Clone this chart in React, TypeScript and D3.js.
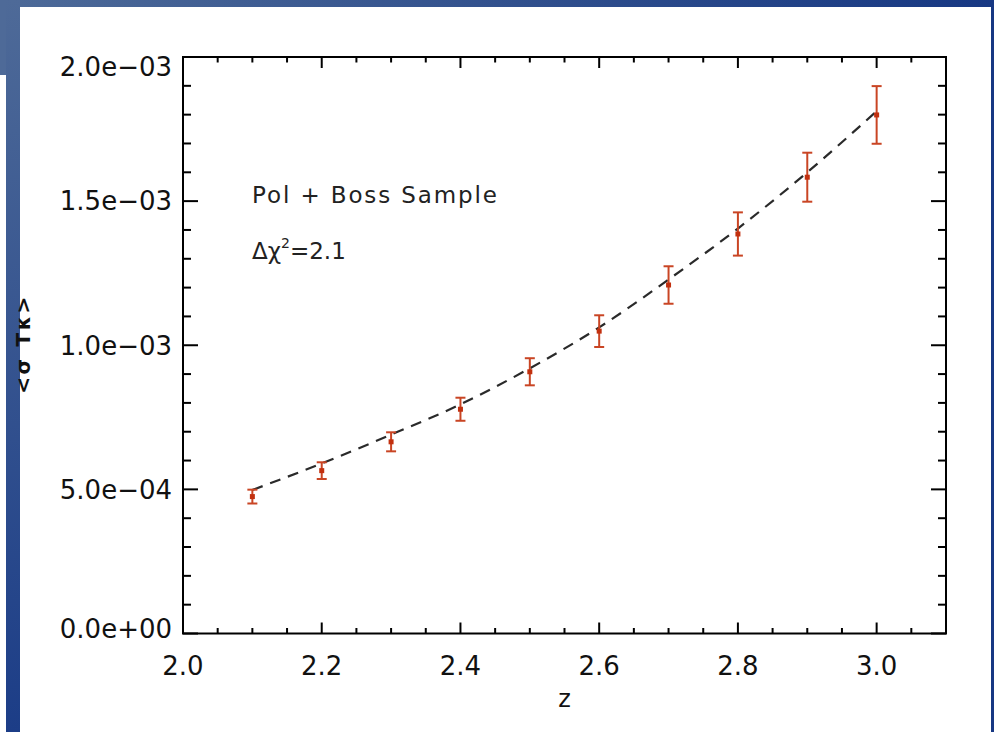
import React from "react";
import * as d3 from "d3";

const zVals = [2.1, 2.2, 2.3, 2.4, 2.5, 2.6, 2.7, 2.8, 2.9, 3.0];
const meanVals = [4.75e-4, 5.65e-4, 6.65e-4, 7.78e-4, 9.08e-4, 1.049e-3, 1.209e-3, 1.386e-3, 1.583e-3, 1.799e-3];
const errVals = [0.24e-4, 0.29e-4, 0.33e-4, 0.4e-4, 0.47e-4, 0.55e-4, 0.65e-4, 0.75e-4, 0.85e-4, 1.0e-4];
const modelVals = [4.98e-4, 5.9e-4, 6.9e-4, 7.95e-4, 9.2e-4, 1.062e-3, 1.228e-3, 1.405e-3, 1.6e-3, 1.812e-3];

const yTickVals = [0, 5e-4, 1e-3, 1.5e-3, 2e-3];
const yTickLabels = ["0.0e+00", "5.0e\u221204", "1.0e\u221203", "1.5e\u221203", "2.0e\u221203"];
const xTickVals = [2.0, 2.2, 2.4, 2.6, 2.8, 3.0];
const xTickLabels = ["2.0", "2.2", "2.4", "2.6", "2.8", "3.0"];

const annotation1 = "Pol + Boss Sample";
const xTitle = "z";

const FONT = "'DejaVu Sans', sans-serif";

export default function App() {
  const L = 183, R = 946, T = 57, B = 633.5;
  const x = d3.scaleLinear().domain([2.0, 3.1]).range([L, R]);
  const y = d3.scaleLinear().domain([0, 2e-3]).range([B, T]);

  const xMinor = d3.range(0, 23).map((i) => 2.0 + i * 0.05).filter((v) => v <= 3.1001);
  const yMinor = d3.range(0, 21).map((i) => i * 1e-4);

  const line = d3
    .line<number>()
    .x((_, i) => x(zVals[i]))
    .y((d) => y(d))
    .curve(d3.curveMonotoneX);

  const isMajorX = (v: number) => xTickVals.some((t) => Math.abs(t - v) < 1e-6);
  const isMajorY = (v: number) => yTickVals.some((t) => Math.abs(t - v) < 1e-9);

  const col = "#c94524";

  return (
    <svg
      width={994}
      height={732}
      style={{ position: "fixed", left: 0, top: 0, display: "block", background: "#fff" }}
    >
      <defs>
        <linearGradient id="topbar" x1="0" x2="1" y1="0" y2="0">
          <stop offset="0" stopColor="#4d6a98" />
          <stop offset="1" stopColor="#173883" />
        </linearGradient>
        <linearGradient id="leftbar" x1="0" x2="0" y1="0" y2="1">
          <stop offset="0" stopColor="#4e6a98" />
          <stop offset="1" stopColor="#1c3d87" />
        </linearGradient>
      </defs>
      <rect x={0} y={0} width={994} height={732} fill="#fff" />
      <rect x={0} y={0} width={994} height={7} fill="url(#topbar)" />
      <rect x={6} y={0} width={14} height={732} fill="url(#leftbar)" />
      <rect x={0} y={0} width={6} height={75} fill="#4e6a98" />
      <rect x={991} y={0} width={3} height={732} fill="#173883" />

      {/* frame */}
      <rect x={L} y={T} width={R - L} height={B - T} fill="none" stroke="#000" strokeWidth={2} />

      {/* x ticks bottom & top */}
      {xMinor.map((v, i) => {
        const len = isMajorX(v) ? 11 : 5.5;
        const xx = x(v);
        return (
          <g key={"xt" + i}>
            <line x1={xx} x2={xx} y1={B} y2={B - len} stroke="#000" strokeWidth={2} />
            <line x1={xx} x2={xx} y1={T} y2={T + len} stroke="#000" strokeWidth={2} />
          </g>
        );
      })}
      {/* y ticks left & right */}
      {yMinor.map((v, i) => {
        const len = isMajorY(v) ? 15 : 8;
        const yy = y(v);
        return (
          <g key={"yt" + i}>
            <line x1={L} x2={L + len} y1={yy} y2={yy} stroke="#000" strokeWidth={2} />
            <line x1={R} x2={R - len} y1={yy} y2={yy} stroke="#000" strokeWidth={2} />
          </g>
        );
      })}

      {/* y tick labels */}
      {yTickVals.map((v, i) => {
        const cy = Math.min(Math.max(y(v), T + 10), B - 5);
        return (
          <text
            key={"yl" + i}
            x={172}
            y={cy}
            dy="0.36em"
            textAnchor="end"
            fontFamily={FONT}
            fontSize={26}
            fill="#111"
          >
            {yTickLabels[i]}
          </text>
        );
      })}
      {/* x tick labels */}
      {xTickVals.map((v, i) => (
        <text
          key={"xl" + i}
          x={x(v)}
          y={675}
          textAnchor="middle"
          fontFamily={FONT}
          fontSize={26}
          fill="#111"
        >
          {xTickLabels[i]}
        </text>
      ))}

      {/* axis titles */}
      <text x={(L + R) / 2} y={707} textAnchor="middle" fontFamily={FONT} fontSize={24} fill="#111">
        {xTitle}
      </text>
      <text
        transform={`translate(30, ${(T + B) / 2}) rotate(-90)`}
        textAnchor="middle"
        fontFamily={FONT}
        fontSize={20}
        fontWeight="bold"
        fill="#111"
        textLength={97}
        lengthAdjust="spacing"
      >
        {"<σ Tκ>"}
      </text>

      {/* annotations */}
      <text x={252} y={203} fontFamily={FONT} fontSize={23} fill="#222" textLength={245} lengthAdjust="spacing">
        {annotation1}
      </text>
      <text x={252} y={259} fontFamily={FONT} fontSize={23} fill="#222">
        <tspan>Δχ</tspan>
        <tspan fontSize={14} dy={-11}>2</tspan>
        <tspan dy={11}>=2.1</tspan>
      </text>

      {/* model dashed line */}
      <path d={line(modelVals) || ""} fill="none" stroke="#2a2a2a" strokeWidth={2.2} strokeDasharray="11,8" />

      {/* error bars */}
      {zVals.map((z, i) => {
        const xx = x(z);
        const y1 = y(meanVals[i] + errVals[i]);
        const y2 = y(meanVals[i] - errVals[i]);
        return (
          <g key={"eb" + i} stroke={col} strokeWidth={2}>
            <line x1={xx} x2={xx} y1={y1} y2={y2} />
            <line x1={xx - 5} x2={xx + 5} y1={y1} y2={y1} />
            <line x1={xx - 5} x2={xx + 5} y1={y2} y2={y2} />
            <rect x={xx - 2.5} y={y(meanVals[i]) - 2.5} width={5} height={5} fill="#c2300f" stroke="none" />
          </g>
        );
      })}
    </svg>
  );
}
